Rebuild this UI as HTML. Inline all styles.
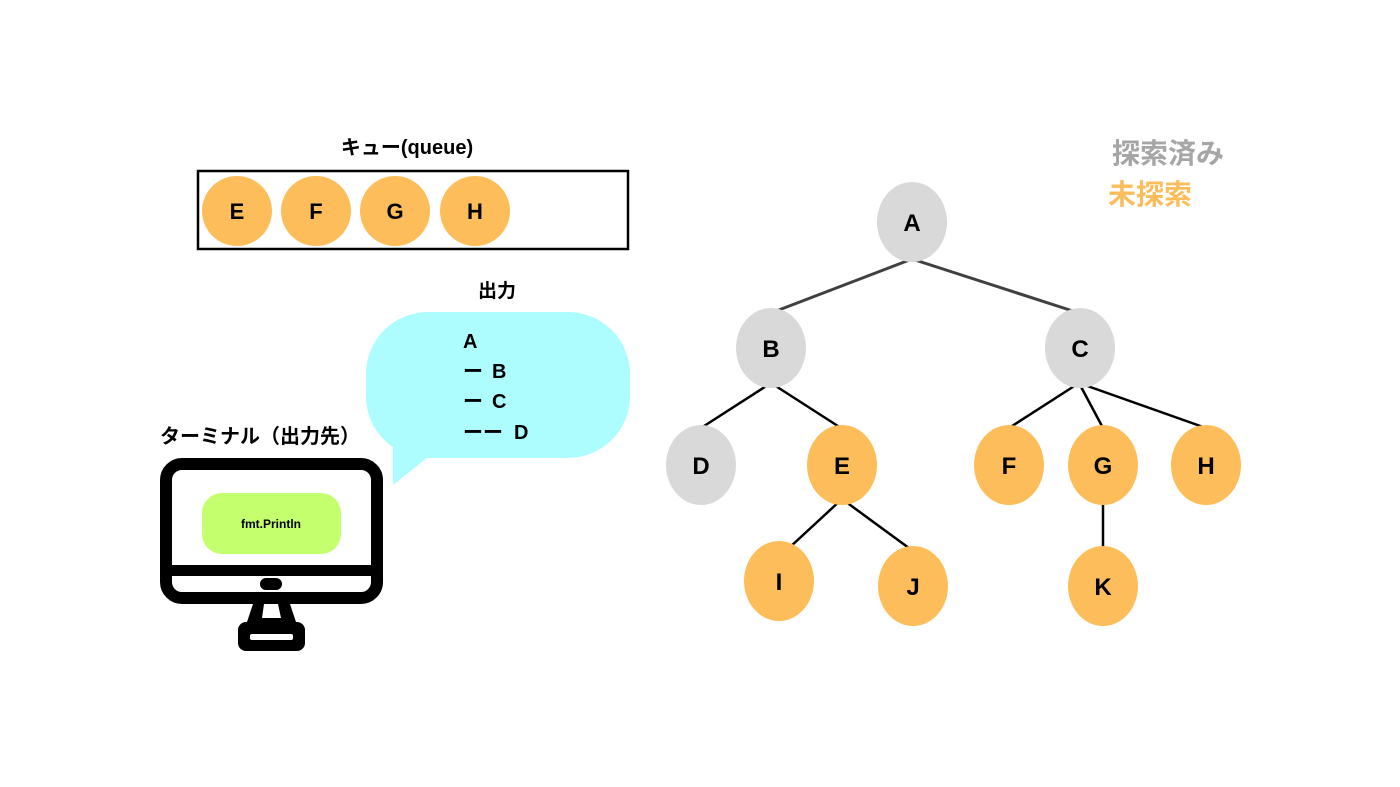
<!DOCTYPE html>
<html><head><meta charset="utf-8"><style>
html,body{margin:0;padding:0;background:#fff;}
svg{display:block;}
text{font-family:"Liberation Sans","Noto Sans CJK JP",sans-serif;font-weight:bold;}
</style></head><body>
<svg width="1400" height="787" viewBox="0 0 1400 787" xmlns="http://www.w3.org/2000/svg">
<rect width="1400" height="787" fill="#fff"/>
<!-- legend -->
<text x="1112" y="163" font-size="28" fill="#a6a6a6">探索済み</text>
<text x="1108" y="204" font-size="28" fill="#fbbd5b">未探索</text>
<!-- queue -->
<text x="407" y="154" font-size="20" text-anchor="middle" fill="#000">キュー(queue)</text>
<rect x="198" y="171" width="430" height="78" fill="none" stroke="#000" stroke-width="2.5"/>
<g fill="#fdbd5b"><circle cx="237" cy="211" r="35"/><circle cx="316" cy="211" r="35"/><circle cx="395" cy="211" r="35"/><circle cx="475" cy="211" r="35"/></g>
<g font-size="22" text-anchor="middle" fill="#000"><text x="237" y="219">E</text><text x="316" y="219">F</text><text x="395" y="219">G</text><text x="475" y="219">H</text></g>
<!-- output bubble -->
<text x="497" y="297" font-size="19" text-anchor="middle" fill="#000">出力</text>
<rect x="366" y="312" width="264" height="146" rx="62" fill="#adfdff"/>
<polygon points="393,440 393,485 428,457 410,440" fill="#adfdff"/>
<g font-size="20" fill="#000">
<text x="463" y="348">A</text>
<text x="463" y="378">ー</text><text x="492" y="378">B</text>
<text x="463" y="408">ー</text><text x="492" y="408">C</text>
<text x="463" y="439">ーー</text><text x="514" y="439">D</text>
</g>
<!-- terminal -->
<text x="160" y="443" font-size="20" fill="#000">ターミナル（出力先）</text>
<rect x="166" y="464" width="211" height="134" rx="16" fill="#fff" stroke="#000" stroke-width="12"/>
<rect x="166" y="565" width="211" height="11" fill="#000"/>
<rect x="260" y="578" width="22" height="12" rx="6" fill="#000"/>
<polygon points="253,604 290,604 297,625 246,625" fill="#000"/>
<polygon points="264,604 278,604 281,618 262,618" fill="#fff"/>
<rect x="238" y="622" width="67" height="29" rx="8" fill="#000"/>
<rect x="250" y="634" width="43" height="6" rx="2" fill="#fff"/>
<rect x="202" y="493" width="139" height="61" rx="20" fill="#c4ff6e"/>
<text x="271" y="528" font-size="12" text-anchor="middle" fill="#000">fmt.Println</text>
<!-- tree edges -->
<g stroke="#404040" stroke-width="3" fill="none">
<line x1="912" y1="259" x2="771" y2="313"/><line x1="912" y1="259" x2="1079" y2="313"/>
</g>
<g stroke="#000" stroke-width="2.5" fill="none">
<line x1="771" y1="383" x2="701" y2="428"/><line x1="771" y1="383" x2="841" y2="428"/>
<line x1="1079" y1="383" x2="1009" y2="428"/><line x1="1079" y1="383" x2="1103" y2="428"/><line x1="1079" y1="383" x2="1206" y2="428"/>
<line x1="842" y1="499" x2="789" y2="548"/><line x1="842" y1="499" x2="913" y2="551"/>
<line x1="1103" y1="499" x2="1103" y2="551"/>
</g>
<!-- nodes -->
<g fill="#d9d9d9">
<ellipse cx="912" cy="222" rx="35" ry="40"/><ellipse cx="771" cy="348" rx="35" ry="40"/><ellipse cx="1080" cy="348" rx="35" ry="40"/><ellipse cx="701" cy="465" rx="35" ry="40"/>
</g>
<g fill="#fdbd5b">
<ellipse cx="842" cy="465" rx="35" ry="40"/><ellipse cx="1009" cy="465" rx="35" ry="40"/><ellipse cx="1103" cy="465" rx="35" ry="40"/><ellipse cx="1206" cy="465" rx="35" ry="40"/>
<ellipse cx="779" cy="581" rx="35" ry="40"/><ellipse cx="913" cy="586" rx="35" ry="40"/><ellipse cx="1103" cy="586" rx="35" ry="40"/>
</g>
<g font-size="24" text-anchor="middle" fill="#000">
<text x="912" y="231">A</text><text x="771" y="357">B</text><text x="1080" y="357">C</text><text x="701" y="474">D</text>
<text x="842" y="474">E</text><text x="1009" y="474">F</text><text x="1103" y="474">G</text><text x="1206" y="474">H</text>
<text x="779" y="590">I</text><text x="913" y="595">J</text><text x="1103" y="595">K</text>
</g>
</svg>
</body></html>
